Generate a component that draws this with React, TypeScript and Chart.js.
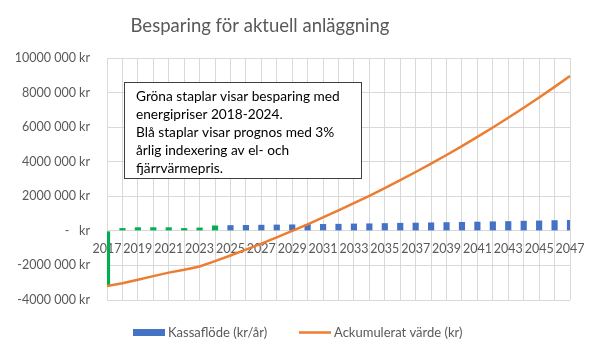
import { useEffect, useRef } from "react";
import { Chart, registerables } from "chart.js";

Chart.register(...registerables);

const years: string[] = [
  "2017", "2018", "2019", "2020", "2021", "2022", "2023", "2024", "2025", "2026",
  "2027", "2028", "2029", "2030", "2031", "2032", "2033", "2034", "2035", "2036",
  "2037", "2038", "2039", "2040", "2041", "2042", "2043", "2044", "2045", "2046", "2047",
];

const cashFlow: number[] = [
  -3190000, 160000, 205000, 205000, 205000, 160000, 190000, 310000, 330000, 340000,
  350000, 360000, 370000, 385000, 395000, 405000, 420000, 430000, 445000, 460000,
  470000, 485000, 500000, 515000, 530000, 545000, 560000, 580000, 595000, 615000, 630000,
];

const accumulated: number[] = [
  -3190000, -3030000, -2825000, -2620000, -2415000, -2255000, -2065000, -1755000, -1425000, -1085000,
  -735000, -375000, -5000, 380000, 775000, 1180000, 1600000, 2030000, 2475000, 2935000,
  3405000, 3890000, 4390000, 4905000, 5435000, 5980000, 6540000, 7120000, 7715000, 8330000, 8960000,
];

const lastActualIndex = 7; // 2017-2024 green

const yTickValues: number[] = [-4000000, -2000000, 0, 2000000, 4000000, 6000000, 8000000, 10000000];
const yTickLabels: string[] = [
  "-4000 000 kr", "-2000 000 kr", "-   kr", "2000 000 kr", "4000 000 kr", "6000 000 kr", "8000 000 kr", "10000 000 kr",
];

const titleText = "Besparing för aktuell anläggning";
const seriesNames: string[] = ["Kassaflöde (kr/år)", "Ackumulerat värde (kr)"];
const noteLines: string[] = [
  "Gröna staplar visar besparing med",
  "energipriser 2018-2024.",
  "Blå staplar visar prognos med 3%",
  "årlig indexering av el- och",
  "fjärrvärmepris.",
];

const GREEN = "#00B050";
const BLUE = "#4472C4";
const ORANGE = "#ED7D31";
const TEXT = "#595959";
const GRID = "#D9D9D9";
const FONT = "Lato, 'Open Sans', sans-serif";

const overlayPlugin = {
  id: "overlay",
  afterDraw(chart: any) {
    const ctx: CanvasRenderingContext2D = chart.ctx;
    ctx.save();
    // title
    ctx.fillStyle = TEXT;
    ctx.font = `18.5px ${FONT}`;
    ctx.textAlign = "center";
    ctx.textBaseline = "middle";
    ctx.fillText(titleText, 260, 26);

    // note box
    ctx.fillStyle = "#FFFFFF";
    ctx.fillRect(124, 82, 238, 97);
    ctx.strokeStyle = "#404040";
    ctx.lineWidth = 1;
    ctx.strokeRect(124.5, 82.5, 237, 96);
    ctx.fillStyle = "#000000";
    ctx.font = `13.7px ${FONT}`;
    ctx.textAlign = "left";
    noteLines.forEach((line, i) => {
      ctx.fillText(line, 136, 97 + i * 18);
    });

    // legend
    ctx.fillStyle = BLUE;
    ctx.fillRect(133, 329, 32, 7);
    ctx.strokeStyle = ORANGE;
    ctx.lineWidth = 2.5;
    ctx.beginPath();
    ctx.moveTo(299, 332.5);
    ctx.lineTo(331, 332.5);
    ctx.stroke();
    ctx.fillStyle = TEXT;
    ctx.font = `13px ${FONT}`;
    ctx.fillText(seriesNames[0], 168, 333);
    ctx.fillText(seriesNames[1], 334, 333);
    ctx.restore();
  },
};

export default function App() {
  const ref = useRef<HTMLCanvasElement | null>(null);

  useEffect(() => {
    if (!ref.current) return;
    const chart = new Chart(ref.current, {
      type: "bar",
      data: {
        labels: years,
        datasets: [
          {
            type: "bar",
            label: seriesNames[0],
            data: cashFlow,
            backgroundColor: (c: any) =>
              c.dataIndex !== undefined && c.dataIndex <= lastActualIndex ? GREEN : BLUE,
            barPercentage: 0.4,
            categoryPercentage: 1,
            clip: 0,
            order: 2,
          } as any,
          {
            type: "line",
            label: seriesNames[1],
            data: accumulated,
            borderColor: ORANGE,
            backgroundColor: ORANGE,
            borderWidth: 2.5,
            pointRadius: 0,
            pointHoverRadius: 0,
            tension: 0,
            fill: false,
            order: 1,
          } as any,
        ],
      },
      options: {
        responsive: false,
        animation: false,
        devicePixelRatio: 1,
        layout: { padding: { left: 0, top: 58, right: 30, bottom: 51 } },
        plugins: {
          legend: { display: false },
          title: { display: false },
          tooltip: { enabled: false },
        },
        scales: {
          x: {
            type: "category",
            position: { y: 0 } as any,
            offset: false,
            grid: { display: true, color: GRID, lineWidth: 1, offset: false, drawTicks: false },
            border: { display: false },
            ticks: {
              autoSkip: false,
              maxRotation: 0,
              minRotation: 0,
              padding: 11,
              color: TEXT,
              font: { family: FONT, size: 12.5 },
              callback: (_v: any, i: number) => (i % 2 === 0 ? years[i] : ""),
            },
          },
          y: {
            type: "linear",
            position: "left",
            min: yTickValues[0],
            max: yTickValues[yTickValues.length - 1],
            afterFit: (scale: any) => {
              scale.width = 107;
            },
            afterBuildTicks: (scale: any) => {
              scale.ticks = yTickValues.map((v) => ({ value: v }));
            },
            grid: { color: GRID, lineWidth: 1, drawTicks: false },
            border: { display: false },
            ticks: {
              padding: 17,
              color: TEXT,
              font: { family: FONT, size: 12.5 },
              callback: (v: any) => {
                const idx = yTickValues.indexOf(Number(v));
                return idx >= 0 ? yTickLabels[idx] : "";
              },
            },
          },
        },
      },
      plugins: [overlayPlugin],
    });
    return () => chart.destroy();
  }, []);

  return (
    <div style={{ position: "fixed", left: 0, top: 0, width: 600, height: 351, background: "#fff" }}>
      <canvas ref={ref} width={600} height={351} style={{ width: 600, height: 351 }} />
    </div>
  );
}
